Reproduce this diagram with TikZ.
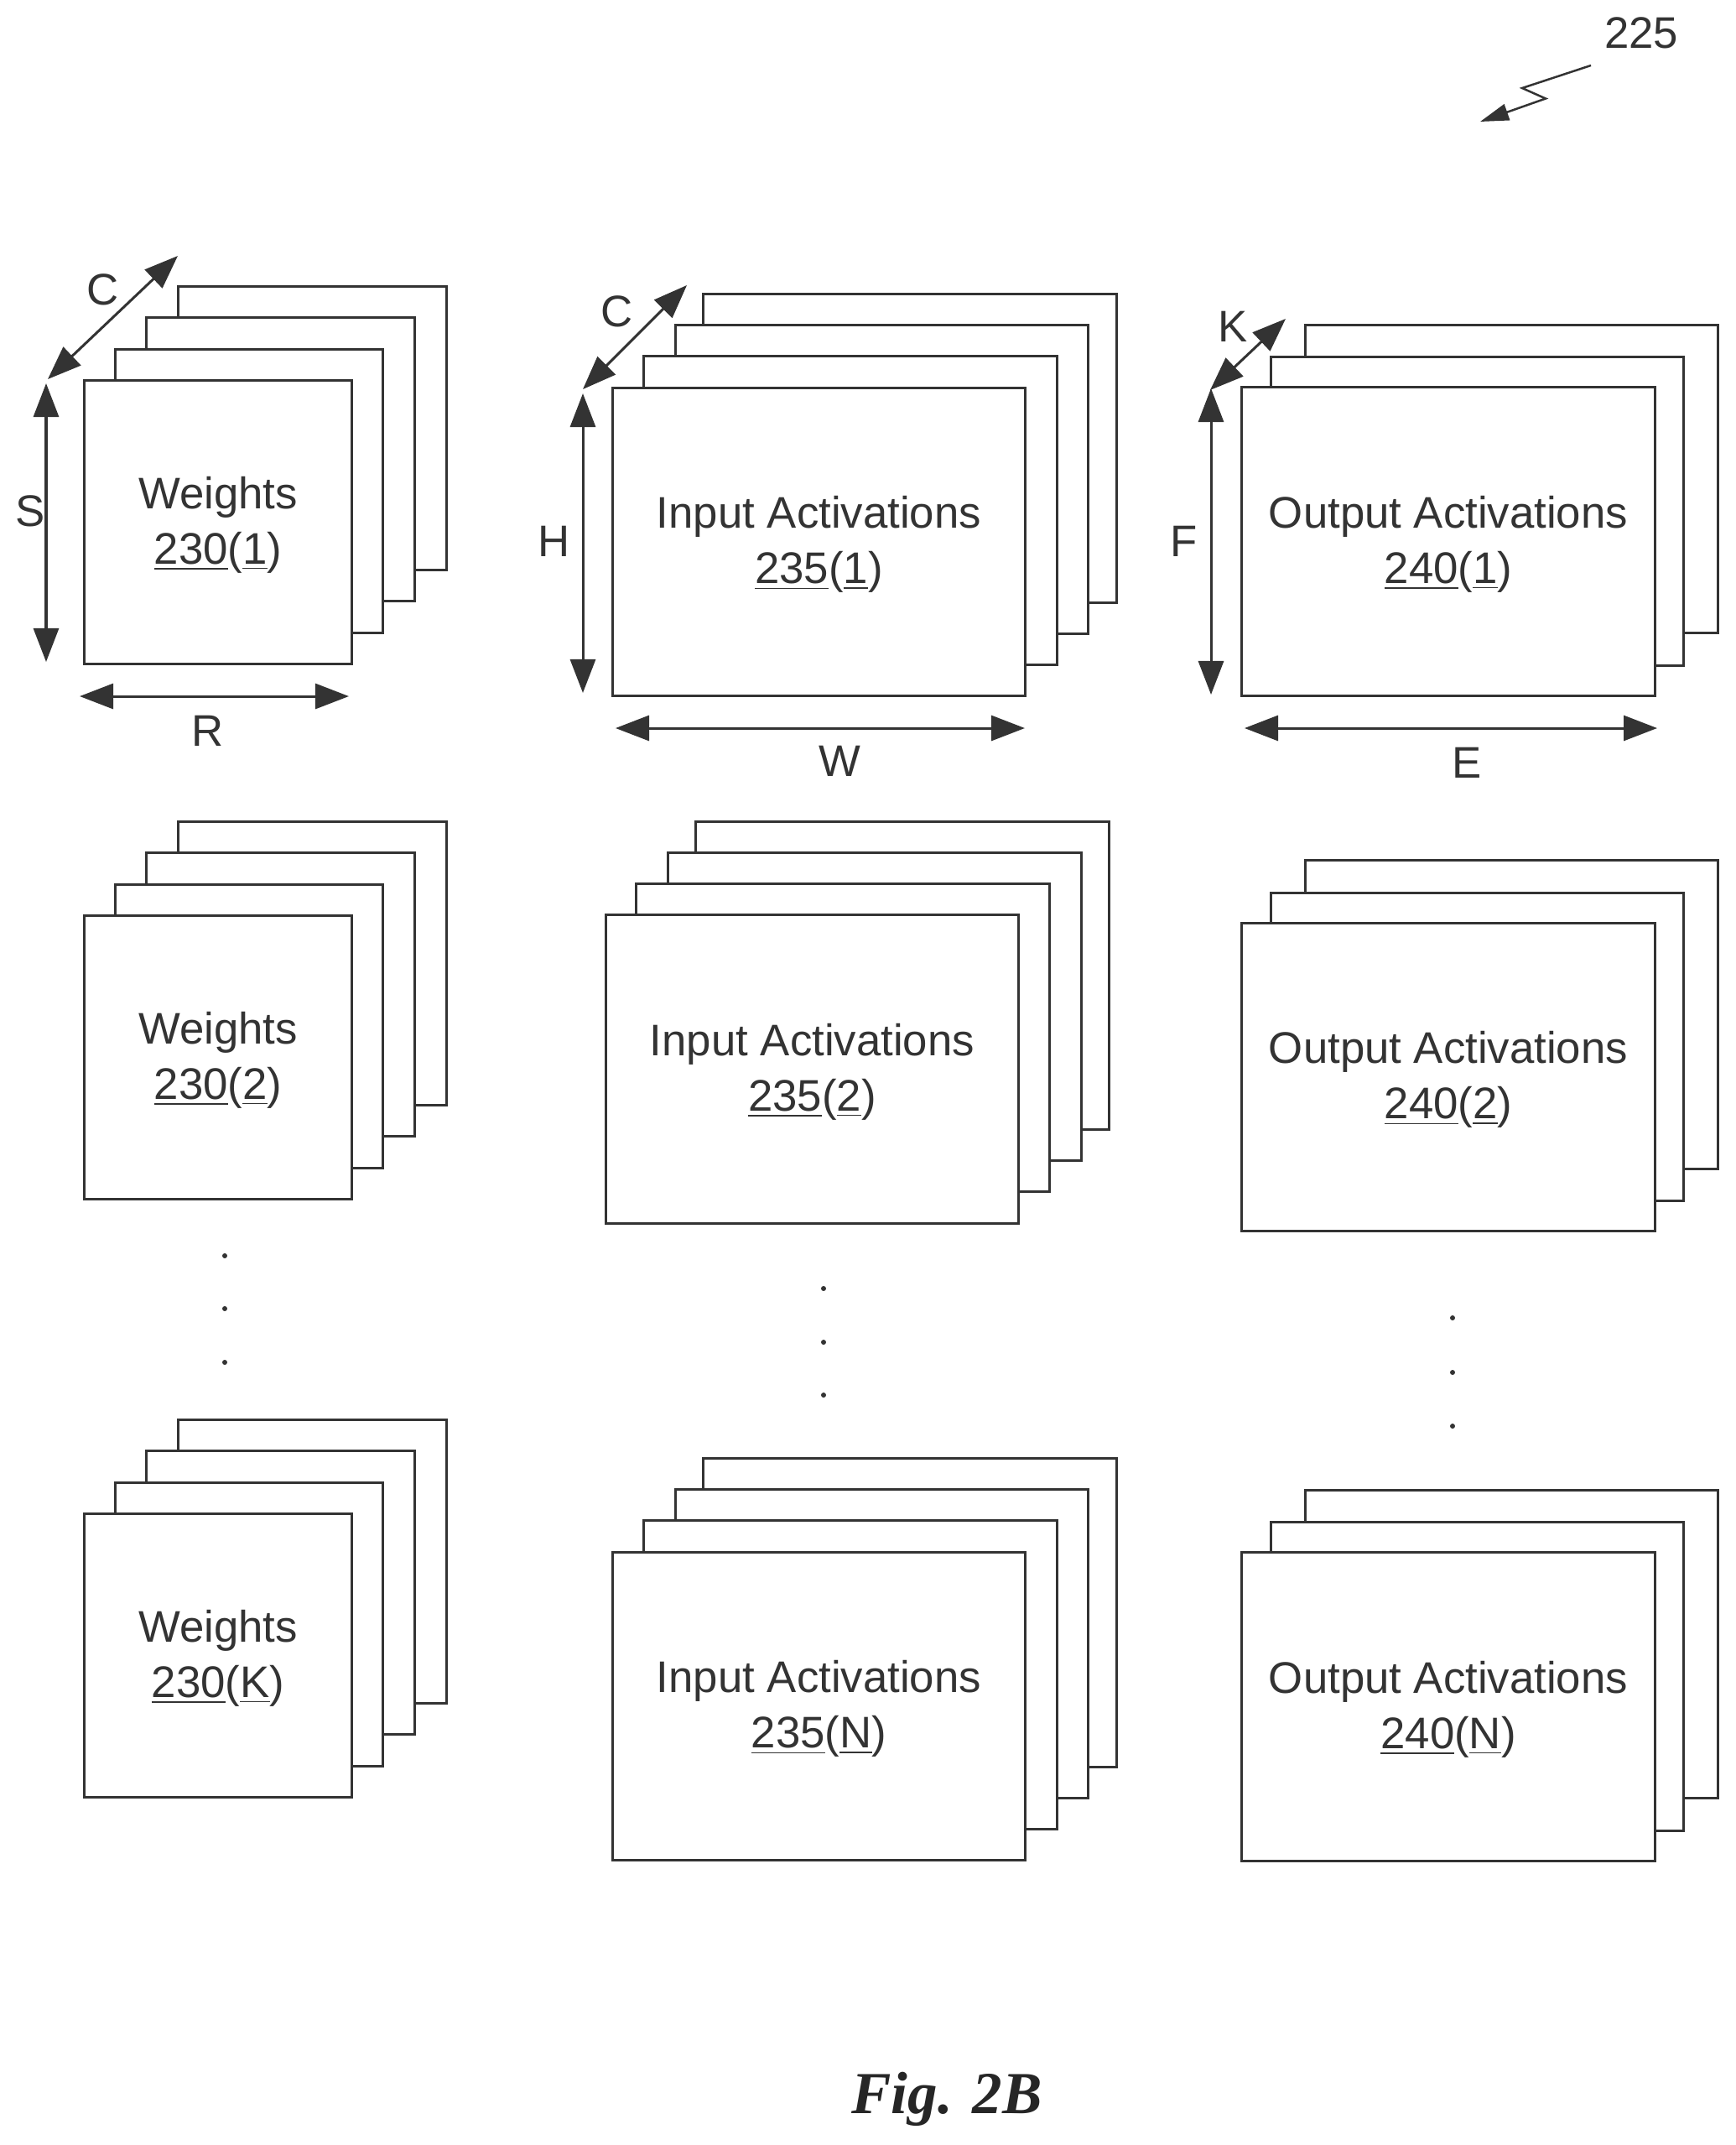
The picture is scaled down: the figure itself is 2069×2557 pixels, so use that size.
\documentclass[tikz,border=0pt]{standalone}
\usepackage{fontspec}
\setmainfont{Liberation Sans}
\newfontfamily\capfont{Liberation Serif}
\usetikzlibrary{arrows.meta}

\begin{document}
\begin{tikzpicture}[
            x=0.01cm, y=-0.01cm,
            sheet/.style={draw=black!80, fill=white, line width=0.03cm, inner sep=0pt, align=center, text=black!80, text depth=0.045cm, font=\fontsize{15pt}{18.8pt}\selectfont},
            weights/.style={sheet, minimum width=3.19cm, minimum height=3.38cm},
            inputact/.style={sheet, minimum width=4.92cm, minimum height=3.67cm},
            outputact/.style={sheet, minimum width=4.92cm, minimum height=3.67cm},
            dimlabel/.style={inner sep=0pt, text=black!80, font=\fontsize{15pt}{18pt}\selectfont},
            dimarrow/.style={{Triangle[length=0.40cm, width=0.30cm]}-{Triangle[length=0.40cm, width=0.30cm]}, draw=black!80, line width=0.03cm},
            refarrow/.style={-{Triangle[length=0.34cm, width=0.20cm]}, draw=black!80, line width=0.025cm},
            ellipsisdot/.style={circle, fill=black!80, inner sep=0pt, minimum size=0.06cm}
        ]

        \useasboundingbox (0,0) rectangle (2069,2557);

        % Weights column
        \node[weights] (weights1d) at (372.5,510.5) {};
        \node[weights] (weights1c) at (334.5,547.5) {};
        \node[weights] (weights1b) at (297,585.5) {};
        \node[weights] (weights1a) at (260,622.5) {Weights\\\underline{230}(\underline{1})};

        \node[weights] (weights2d) at (372.5,1148.5) {};
        \node[weights] (weights2c) at (334.5,1185.5) {};
        \node[weights] (weights2b) at (297,1223.5) {};
        \node[weights] (weights2a) at (260,1260.5) {Weights\\\underline{230}(\underline{2})};

        \node[weights] (weights3d) at (372.5,1861.5) {};
        \node[weights] (weights3c) at (334.5,1898.5) {};
        \node[weights] (weights3b) at (297,1936.5) {};
        \node[weights] (weights3a) at (260,1973.5) {Weights\\\underline{230}(\underline{K})};

        % Input activations column
        \node[inputact] (input1d) at (1085,534.5) {};
        \node[inputact] (input1c) at (1051.5,571.5) {};
        \node[inputact] (input1b) at (1014,608.5) {};
        \node[inputact] (input1a) at (976.5,646) {Input Activations\\\underline{235}(\underline{1})};

        \node[inputact] (input2d) at (1076,1163) {};
        \node[inputact] (input2c) at (1043,1200) {};
        \node[inputact] (input2b) at (1005,1237) {};
        \node[inputact] (input2a) at (968.5,1274.5) {Input Activations\\\underline{235}(\underline{2})};

        \node[inputact] (input3d) at (1085,1922.5) {};
        \node[inputact] (input3c) at (1051.5,1959.5) {};
        \node[inputact] (input3b) at (1014,1996.5) {};
        \node[inputact] (input3a) at (976.5,2034) {Input Activations\\\underline{235}(\underline{N})};

        % Output activations column
        \node[outputact] (output1c) at (1802.5,571) {};
        \node[outputact] (output1b) at (1761.5,609.5) {};
        \node[outputact] (output1a) at (1727,645.5) {Output Activations\\\underline{240}(\underline{1})};

        \node[outputact] (output2c) at (1802.5,1209.5) {};
        \node[outputact] (output2b) at (1761.5,1248) {};
        \node[outputact] (output2a) at (1727,1284) {Output Activations\\\underline{240}(\underline{2})};

        \node[outputact] (output3c) at (1802.5,1960) {};
        \node[outputact] (output3b) at (1761.5,1998.5) {};
        \node[outputact] (output3a) at (1727,2034.5) {Output Activations\\\underline{240}(\underline{N})};

        % Dimension arrow ends
        \coordinate (stop) at (55,457);
        \coordinate (sbot) at (55,789);
        \coordinate (rleft) at (95,830);
        \coordinate (rright) at (416,830);
        \coordinate (cfront) at (57,452);
        \coordinate (cback) at (212,305);
        \coordinate (htop) at (695,469);
        \coordinate (hbot) at (695,826);
        \coordinate (wleft) at (734,868);
        \coordinate (wright) at (1222,868);
        \coordinate (cfrontb) at (695,464);
        \coordinate (cbackb) at (819,340);
        \coordinate (ftop) at (1444,463);
        \coordinate (fbot) at (1444,828);
        \coordinate (eleft) at (1484,868);
        \coordinate (eright) at (1976,868);
        \coordinate (kfront) at (1443,465);
        \coordinate (kback) at (1533,380);

        % Dimension arrows
        \draw[dimarrow] (stop) -- (sbot);
        \draw[dimarrow] (rleft) -- (rright);
        \draw[dimarrow] (cfront) -- (cback);
        \draw[dimarrow] (htop) -- (hbot);
        \draw[dimarrow] (wleft) -- (wright);
        \draw[dimarrow] (cfrontb) -- (cbackb);
        \draw[dimarrow] (ftop) -- (fbot);
        \draw[dimarrow] (eleft) -- (eright);
        \draw[dimarrow] (kfront) -- (kback);

        % Dimension labels
        \node[dimlabel] (labels) at (36,609) {S};
        \node[dimlabel] (labelr) at (248,871) {R};
        \node[dimlabel] (labelc) at (123,345) {C};
        \node[dimlabel] (labelh) at (661,645) {H};
        \node[dimlabel] (labelw) at (1001,907) {W};
        \node[dimlabel] (labelcb) at (736,371) {C};
        \node[dimlabel] (labelf) at (1412,645) {F};
        \node[dimlabel] (labele) at (1749,909) {E};
        \node[dimlabel] (labelk) at (1470,389) {K};

        % Vertical dots between the rows
        \node[ellipsisdot] (dotw1) at (268,1497) {};
        \node[ellipsisdot] (dotw2) at (268,1560) {};
        \node[ellipsisdot] (dotw3) at (268,1624) {};
        \node[ellipsisdot] (doti1) at (982,1536) {};
        \node[ellipsisdot] (doti2) at (982,1600) {};
        \node[ellipsisdot] (doti3) at (982,1663) {};
        \node[ellipsisdot] (doto1) at (1732,1571) {};
        \node[ellipsisdot] (doto2) at (1732,1636) {};
        \node[ellipsisdot] (doto3) at (1732,1700) {};

        % Reference number
        \node[dimlabel] (refnum) at (1957,39) {225};
        \coordinate (refstart) at (1897,78);
        \coordinate (refbenda) at (1815,105);
        \coordinate (refbendb) at (1843,117.5);
        \coordinate (reftip) at (1765,145);
        \draw[refarrow] (refstart) -- (refbenda) -- (refbendb) -- (reftip);

        % Caption
        \node[inner sep=0pt, text=black!85, font=\fontsize{20.2pt}{24pt}\selectfont\capfont\bfseries\itshape] (caption) at (1129,2502) {Fig. 2B};

    \end{tikzpicture}
\end{document}
